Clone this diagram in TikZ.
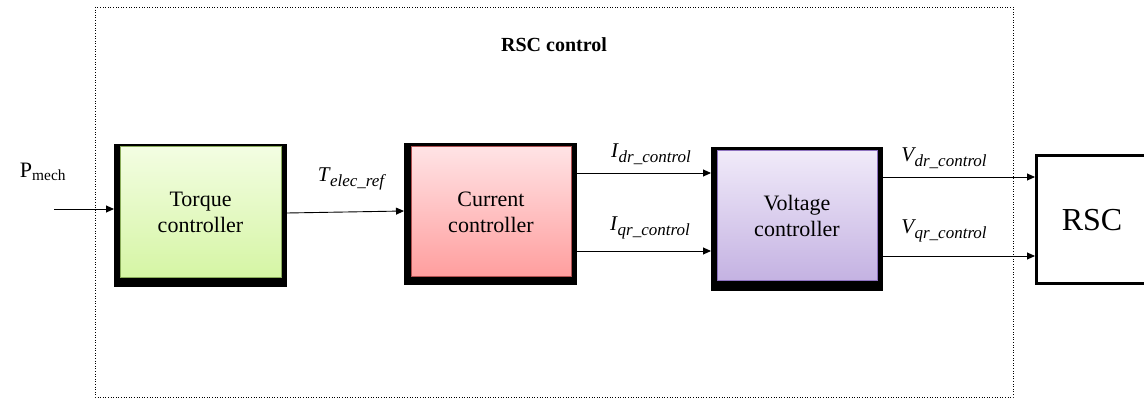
\documentclass[tikz,border=0pt]{standalone}
\usepackage{fontspec}
\setmainfont{Liberation Serif}
\usetikzlibrary{arrows.meta}
\newcommand{\mylbl}[2]{{\fontsize{21}{21}\selectfont\itshape #1}\kern0.5pt\raisebox{-4.5pt}{\fontsize{17}{17}\selectfont\itshape #2}}
\definecolor{gtop}{HTML}{F3FDE2}
\definecolor{gbot}{HTML}{D5F5A4}
\definecolor{gbrd}{HTML}{8AAB5A}
\definecolor{rtop}{HTML}{FFE3E5}
\definecolor{rbot}{HTML}{FF9E9E}
\definecolor{rbrd}{HTML}{B05050}
\definecolor{ptop}{HTML}{F0EAF9}
\definecolor{pbot}{HTML}{C4B2E2}
\definecolor{pbrd}{HTML}{8E72C0}
\tikzset{
  outerbox/.style={fill=black, draw=none},
  innerbox/.style={draw=#1brd, line width=1pt, top color=#1top, bottom color=#1bot, align=center, font=\rmfamily\fontsize{22}{26}\selectfont},
  sig/.style={-{Triangle[length=8pt,width=7pt]}, line width=0.9pt},
  lbl/.style={font=\rmfamily\fontsize{20}{24}\selectfont},
}
\begin{document}
\begin{tikzpicture}[x=1pt,y=-1pt]
\useasboundingbox (0,0) rectangle (1144,398);
% dotted frame
\draw[dotted, line width=0.6pt] (95,7) rectangle (1013,397);
\node[font=\rmfamily\bfseries\fontsize{20}{22}\selectfont] (title) at (554,45) {RSC control};
% torque
\fill[outerbox] (114,144) rectangle (287,287);
\node[innerbox=g, minimum width=161pt, minimum height=131pt, inner sep=0pt] (tq) at (200.5,212.5) {Torque\\controller};
% current
\fill[outerbox] (404,143) rectangle (577,285);
\node[innerbox=r, minimum width=160pt, minimum height=130pt, inner sep=0pt] (cc) at (491,212) {Current\\controller};
% voltage
\fill[outerbox] (711,147) rectangle (883,291);
\node[innerbox=p, minimum width=160pt, minimum height=130pt, inner sep=0pt] (vc) at (797,216) {Voltage\\controller};
% RSC
\node[draw, line width=3pt, fill=white, minimum width=112pt, minimum height=128pt, inner sep=0pt, font=\rmfamily\fontsize{32}{36}\selectfont] (rsc) at (1092,220) {RSC};
% coordinates
\coordinate (pin) at (54,209);
\coordinate (tqin) at (114,209);
\coordinate (tqout) at (287,213);
\coordinate (ccin) at (404,211);
\coordinate (ccout1) at (577,173);
\coordinate (ccout2) at (577,251);
\coordinate (vcin1) at (711,173);
\coordinate (vcin2) at (711,251);
\coordinate (vcout1) at (883,177);
\coordinate (vcout2) at (883,256);
\coordinate (rscin1) at (1035,177);
\coordinate (rscin2) at (1035,256);
\draw[sig] (pin) -- (tqin);
\draw[sig] (tqout) -- (ccin);
\draw[sig] (ccout1) -- (vcin1);
\draw[sig] (ccout2) -- (vcin2);
\draw[sig] (vcout1) -- (rscin1);
\draw[sig] (vcout2) -- (rscin2);
% labels
\node[font=\rmfamily\fontsize{22}{24}\selectfont] (lp) at (43,172) {P\textsubscript{mech}};
\node[lbl] (lt) at (351,179) {\mylbl{T}{elec\_ref}};
\node[lbl] (li1) at (651,154) {\mylbl{I}{dr\_control}};
\node[lbl] (li2) at (650,228) {\mylbl{I}{qr\_control}};
\node[lbl] (lv1) at (944,158) {\mylbl{V}{dr\_control}};
\node[lbl] (lv2) at (944,231) {\mylbl{V}{qr\_control}};
\end{tikzpicture}
\end{document}
